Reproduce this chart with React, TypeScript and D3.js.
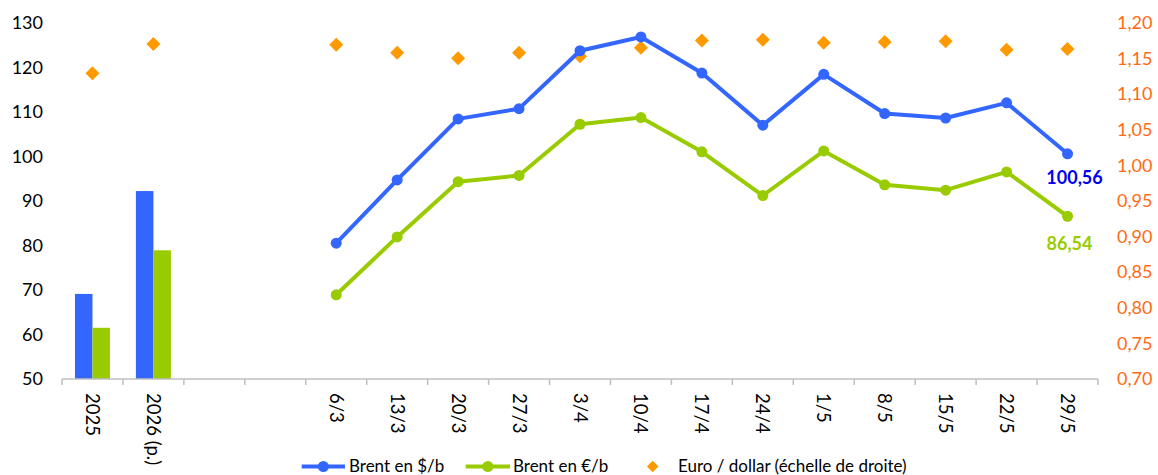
import { useEffect, useRef } from 'react'
import * as d3 from 'd3'

// x categories: 2 annual bars, 2 empty slots, 13 weekly points
const categories = ['2025', '2026 (p.)', '', '', '6/3', '13/3', '20/3', '27/3', '3/4', '10/4', '17/4', '24/4', '1/5', '8/5', '15/5', '22/5', '29/5']
const annualLabels = ['2025', '2026 (p.)']
const weekLabels = ['6/3', '13/3', '20/3', '27/3', '3/4', '10/4', '17/4', '24/4', '1/5', '8/5', '15/5', '22/5', '29/5']

// annual averages (bars)
const annualUsd = [69.1, 92.2]
const annualEur = [61.5, 78.9]
const annualFx = [1.129, 1.170]

// weekly series
const brentUsd = [80.5, 94.7, 108.4, 110.7, 123.7, 126.8, 118.7, 107.0, 118.4, 109.6, 108.6, 112.0, 100.56]
const brentEur = [68.9, 81.9, 94.3, 95.7, 107.2, 108.7, 101.0, 91.2, 101.2, 93.6, 92.4, 96.5, 86.54]
const euroDollar = [1.169, 1.158, 1.150, 1.158, 1.153, 1.165, 1.175, 1.176, 1.172, 1.173, 1.174, 1.162, 1.163]

const leftTicks = [50, 60, 70, 80, 90, 100, 110, 120, 130]
const rightTicks = [0.70, 0.75, 0.80, 0.85, 0.90, 0.95, 1.00, 1.05, 1.10, 1.15, 1.20]

const BLUE = '#3366FF'
const GREEN = '#99CC00'
const ORANGE = '#FF9900'
const RIGHT_TXT = '#FF6A13'
const FONT = 'Lato, "Open Sans", sans-serif'

export default function App() {
  const canvas = useRef<HTMLDivElement>(null)

  useEffect(() => {
    showCanvas()
  }, [])

  const showCanvas = () => {
    const width = 1158
    const height = 475
    const margin = { top: 22.7, bottom: 96, left: 62, right: 60 }

    d3.select(canvas.current).selectAll('*').remove()

    const svg = d3.select(canvas.current)
      .append('svg')
      .attr('width', width)
      .attr('height', height)
      .style('position', 'absolute')
      .style('left', 0)
      .style('top', 0)
      .style('background', '#fff')
      .style('font-family', FONT)

    const plotBottom = height - margin.bottom
    const x = d3.scaleBand<number>()
      .domain(d3.range(categories.length))
      .range([margin.left, width - margin.right])
    const bw = x.bandwidth()
    const cx = (i: number) => (x(i) as number) + bw / 2

    const yL = d3.scaleLinear().domain([50, 130]).range([plotBottom, margin.top])
    const yR = d3.scaleLinear().domain([0.7, 1.2]).range([plotBottom, margin.top])

    // left axis labels
    svg.append('g')
      .selectAll('text')
      .data(leftTicks)
      .join('text')
      .attr('x', 43)
      .attr('y', d => yL(d))
      .attr('dy', '0.35em')
      .attr('text-anchor', 'end')
      .attr('font-size', 18)
      .attr('fill', '#000')
      .text(d => d)

    // right axis labels
    const fmt = (v: number) => v.toFixed(2).replace('.', ',')
    svg.append('g')
      .selectAll('text')
      .data(rightTicks)
      .join('text')
      .attr('x', 1117)
      .attr('y', d => yR(d))
      .attr('dy', '0.35em')
      .attr('text-anchor', 'start')
      .attr('font-size', 18)
      .attr('fill', RIGHT_TXT)
      .text(d => fmt(d))

    // bars for annual values
    const sub = d3.scaleBand<string>().domain(['usd', 'eur']).range([0, bw]).paddingOuter(0.741)
    const bars = svg.append('g')
    annualLabels.forEach((_, i) => {
      bars.append('rect')
        .attr('x', (x(i) as number) + (sub('usd') as number))
        .attr('y', yL(annualUsd[i]))
        .attr('width', sub.bandwidth())
        .attr('height', plotBottom - yL(annualUsd[i]))
        .attr('fill', BLUE)
      bars.append('rect')
        .attr('x', (x(i) as number) + (sub('eur') as number))
        .attr('y', yL(annualEur[i]))
        .attr('width', sub.bandwidth())
        .attr('height', plotBottom - yL(annualEur[i]))
        .attr('fill', GREEN)
    })

    // x axis
    const xAxis = svg.append('g')
    xAxis.append('line')
      .attr('x1', margin.left).attr('x2', width - margin.right)
      .attr('y1', plotBottom).attr('y2', plotBottom)
      .attr('stroke', '#BFBFBF').attr('stroke-width', 1.5)
    xAxis.selectAll('line.tick')
      .data(d3.range(categories.length + 1))
      .join('line')
      .attr('class', 'tick')
      .attr('x1', i => margin.left + i * x.step())
      .attr('x2', i => margin.left + i * x.step())
      .attr('y1', plotBottom)
      .attr('y2', plotBottom + 6)
      .attr('stroke', '#BFBFBF').attr('stroke-width', 1.5)
    xAxis.selectAll('text')
      .data(categories.map((c, i) => ({ c, i })).filter(d => d.c !== ''))
      .join('text')
      .attr('transform', d => `translate(${cx(d.i)}, ${plotBottom + 14}) rotate(90)`)
      .attr('dy', '0.35em')
      .attr('text-anchor', 'start')
      .attr('font-size', 18.5)
      .attr('fill', '#000')
      .text(d => d.c)

    const offset = 4
    const wx = (i: number) => cx(i + offset)

    // euro/dollar diamonds
    const diamond = d3.symbol().type(d3.symbolSquare).size(98)
    const fxPts = [
      ...annualFx.map((v, i) => ({ x: cx(i), v })),
      ...euroDollar.map((v, i) => ({ x: wx(i), v }))
    ]
    svg.append('g')
      .selectAll('path')
      .data(fxPts)
      .join('path')
      .attr('d', diamond)
      .attr('transform', d => `translate(${d.x}, ${yR(d.v)}) rotate(45)`)
      .attr('fill', ORANGE)

    // lines
    const drawSeries = (vals: number[], color: string) => {
      const line = d3.line<number>()
        .x((_, i) => wx(i))
        .y(d => yL(d))
      const g = svg.append('g')
      g.append('path')
        .attr('d', line(vals))
        .attr('fill', 'none')
        .attr('stroke', color)
        .attr('stroke-width', 4)
        .attr('stroke-linejoin', 'round')
      g.selectAll('circle')
        .data(vals)
        .join('circle')
        .attr('cx', (_, i) => wx(i))
        .attr('cy', d => yL(d))
        .attr('r', 5.5)
        .attr('fill', color)
    }
    drawSeries(brentUsd, BLUE)
    drawSeries(brentEur, GREEN)

    // end labels
    const last = weekLabels.length - 1
    svg.append('text')
      .attr('x', wx(last) + 7)
      .attr('y', yL(brentUsd[last]) + 24)
      .attr('dy', '0.35em')
      .attr('text-anchor', 'middle')
      .attr('font-size', 18)
      .attr('font-weight', 'bold')
      .attr('fill', '#0000EE')
      .text(fmt(brentUsd[last]))
    svg.append('text')
      .attr('x', wx(last) + 2)
      .attr('y', yL(brentEur[last]) + 27)
      .attr('dy', '0.35em')
      .attr('text-anchor', 'middle')
      .attr('font-size', 18)
      .attr('font-weight', 'bold')
      .attr('fill', GREEN)
      .text(fmt(brentEur[last]))

    // legend
    const ly = 466.5
    const legend = svg.append('g').attr('font-size', 17)
    const items = [
      { label: 'Brent en $/b', color: BLUE, x0: 301.7, x1: 345, tx: 349 },
      { label: 'Brent en €/b', color: GREEN, x0: 465.7, x1: 510, tx: 513 }
    ]
    items.forEach(it => {
      legend.append('line')
        .attr('x1', it.x0).attr('x2', it.x1)
        .attr('y1', ly).attr('y2', ly)
        .attr('stroke', it.color).attr('stroke-width', 4)
      legend.append('circle')
        .attr('cx', (it.x0 + it.x1) / 2).attr('cy', ly).attr('r', 5.5)
        .attr('fill', it.color)
      legend.append('text')
        .attr('x', it.tx).attr('y', ly).attr('dy', '0.35em')
        .attr('fill', '#000')
        .text(it.label)
    })
    legend.append('path')
      .attr('d', d3.symbol().type(d3.symbolSquare).size(66)())
      .attr('transform', `translate(652.7, ${ly}) rotate(45)`)
      .attr('fill', ORANGE)
    legend.append('text')
      .attr('x', 678).attr('y', ly).attr('dy', '0.35em')
      .attr('fill', '#000')
      .text('Euro / dollar (échelle de droite)')
  }

  return (
    <div className='chart'>
      <div className='canvas' ref={canvas}></div>
    </div>
  )
}
